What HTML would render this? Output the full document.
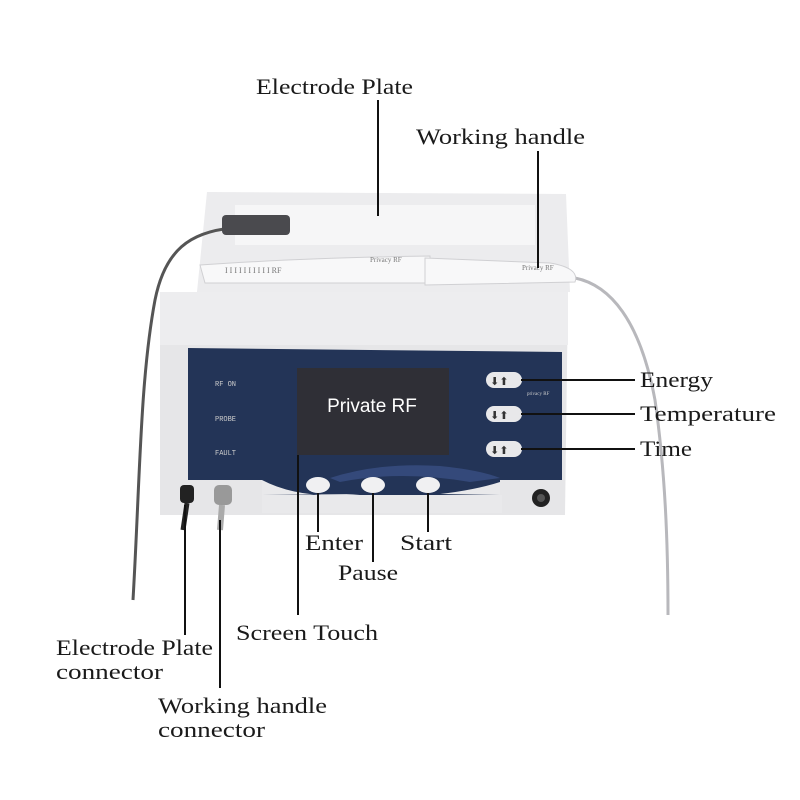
<!DOCTYPE html>
<html><head><style>
html,body{margin:0;padding:0;background:#fff;}
svg{display:block;}
text{font-family:"Liberation Serif",serif;font-size:22px;fill:#1a1a1a;}
</style></head><body>
<svg width="800" height="800" viewBox="0 0 800 800">
<path d="M575,278 C610,285 640,320 655,400 C665,470 668,540 668,615" stroke="#b8b8bc" stroke-width="3" fill="none"/>
<path d="M207,192 L566,194 L570,292 L197,292 Z" fill="#ececee"/>
<rect x="235" y="205" width="300" height="40" fill="#f6f6f7"/>
<path d="M200,265 Q300,258 430,256 L430,283 Q300,283 205,283 Z" fill="#f8f8f9" stroke="#d0d0d3"/>
<path d="M425,258 L550,263 Q580,268 575,282 L425,285 Z" fill="#f8f8f9" stroke="#d0d0d3"/>
<text x="225" y="273" style="font-size:8px;fill:#777">I I I I I I I I I I  RF</text>
<text x="370" y="262" style="font-size:7px;fill:#777">Privacy RF</text>
<text x="522" y="270" style="font-size:7px;fill:#777">Privacy RF</text>
<path d="M160,292 L568,292 L565,515 L160,515 Z" fill="#e6e6e8"/>
<path d="M160,292 L568,292 L568,345 L160,345 Z" fill="#ededef"/>
<path d="M188,348 L562,352 L562,480 L500,480 L500,495 L262,495 L262,480 L188,480 Z" fill="#233457"/>
<path d="M330,478 Q380,462 440,466 Q480,470 500,478 L470,482 Q400,470 340,482 Z" fill="#34497a"/>
<path d="M262,480 Q300,500 360,494 L262,495 Z" fill="#e9e9eb"/>
<path d="M440,494 Q475,490 500,482 L500,495 Z" fill="#e9e9eb"/>
<rect x="262" y="495" width="240" height="18" fill="#e9e9eb"/>
<text x="215" y="386" style="font-size:7px;fill:#ccc;font-family:'Liberation Mono',monospace">RF ON</text>
<text x="215" y="421" style="font-size:7px;fill:#ccc;font-family:'Liberation Mono',monospace">PROBE</text>
<text x="215" y="455" style="font-size:7px;fill:#ccc;font-family:'Liberation Mono',monospace">FAULT</text>
<rect x="297" y="368" width="152" height="87" fill="#2f2f36"/>
<text x="372" y="412" text-anchor="middle" style="font-family:'Liberation Sans',sans-serif;font-size:19px;fill:#fff">Private RF</text>
<g fill="#e8e8ea">
<rect x="486" y="372" width="36" height="16" rx="8"/>
<rect x="486" y="406" width="36" height="16" rx="8"/>
<rect x="486" y="441" width="36" height="16" rx="8"/>
</g>
<text x="490" y="385" style="font-size:11px;fill:#333;font-family:'DejaVu Sans'">⬇⬆</text>
<text x="490" y="419" style="font-size:11px;fill:#333;font-family:'DejaVu Sans'">⬇⬆</text>
<text x="490" y="454" style="font-size:11px;fill:#333;font-family:'DejaVu Sans'">⬇⬆</text>
<text x="527" y="395" style="font-size:5px;fill:#ccc">privacy RF</text>
<ellipse cx="318" cy="485" rx="12" ry="8" fill="#f0f0f2"/>
<ellipse cx="373" cy="485" rx="12" ry="8" fill="#f0f0f2"/>
<ellipse cx="428" cy="485" rx="12" ry="8" fill="#f0f0f2"/>
<circle cx="541" cy="498" r="9" fill="#222"/>
<circle cx="541" cy="498" r="4" fill="#555"/>
<rect x="180" y="485" width="14" height="18" rx="4" fill="#222"/>
<rect x="214" y="485" width="18" height="20" rx="5" fill="#999"/>
<path d="M187,503 L183,530" stroke="#222" stroke-width="5"/>
<path d="M222,505 L220,530" stroke="#aaa" stroke-width="6"/>
<path d="M232,228 C190,232 165,250 155,300 C140,380 140,480 133,600" stroke="#555" stroke-width="3" fill="none"/>
<rect x="222" y="215" width="68" height="20" rx="4" fill="#4a4a4e"/>
<g stroke="#111" stroke-width="2" fill="none">
<line x1="378" y1="100" x2="378" y2="216"/>
<line x1="538" y1="151" x2="538" y2="268"/>
<line x1="521" y1="380" x2="635" y2="380"/>
<line x1="521" y1="414" x2="635" y2="414"/>
<line x1="521" y1="449" x2="635" y2="449"/>
<line x1="318" y1="493" x2="318" y2="532"/>
<line x1="373" y1="493" x2="373" y2="562"/>
<line x1="428" y1="493" x2="428" y2="532"/>
<line x1="298" y1="455" x2="298" y2="615"/>
<line x1="185" y1="505" x2="185" y2="635"/>
<line x1="220" y1="520" x2="220" y2="688"/>
</g>
<text x="256" y="94" textLength="157" lengthAdjust="spacingAndGlyphs">Electrode Plate</text>
<text x="416" y="144" textLength="169" lengthAdjust="spacingAndGlyphs">Working handle</text>
<text x="640" y="387" textLength="73" lengthAdjust="spacingAndGlyphs">Energy</text>
<text x="640" y="421" textLength="136" lengthAdjust="spacingAndGlyphs">Temperature</text>
<text x="640" y="456" textLength="52" lengthAdjust="spacingAndGlyphs">Time</text>
<text x="305" y="550" textLength="58" lengthAdjust="spacingAndGlyphs">Enter</text>
<text x="400" y="550" textLength="52" lengthAdjust="spacingAndGlyphs">Start</text>
<text x="338" y="580" textLength="60" lengthAdjust="spacingAndGlyphs">Pause</text>
<text x="236" y="640" textLength="142" lengthAdjust="spacingAndGlyphs">Screen Touch</text>
<text x="56" y="655" textLength="157" lengthAdjust="spacingAndGlyphs">Electrode Plate</text>
<text x="56" y="679" textLength="107" lengthAdjust="spacingAndGlyphs">connector</text>
<text x="158" y="713" textLength="169" lengthAdjust="spacingAndGlyphs">Working handle</text>
<text x="158" y="737" textLength="107" lengthAdjust="spacingAndGlyphs">connector</text>
</svg>
</body></html>
